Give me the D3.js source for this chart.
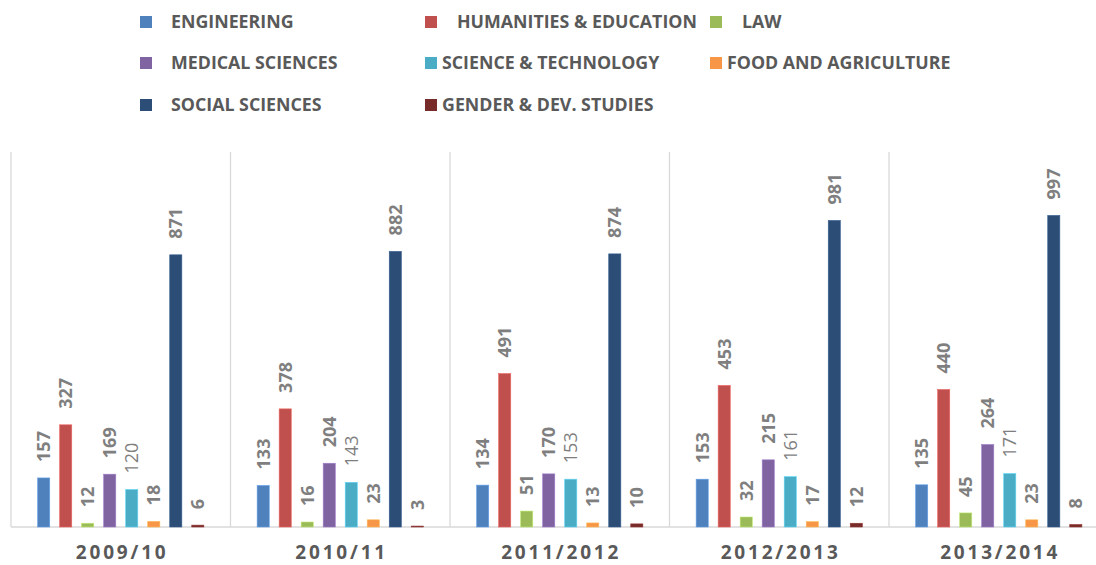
<!DOCTYPE html>
<html>
<head>
<meta charset="utf-8">
<script src="https://cdn.jsdelivr.net/npm/d3@7"></script>
<style>
  html, body { margin: 0; padding: 0; background: #ffffff; }
  svg { display: block; font-family: "Open Sans", "Liberation Sans", sans-serif; }
</style>
</head>
<body>
<svg id="chart" width="1096" height="565"></svg>
<script>
// Academic years shown along the category axis
const years = ["2009/10", "2010/11", "2011/2012", "2012/2013", "2013/2014"];

// Faculties (series), in legend order
const faculties = [
  "ENGINEERING", "HUMANITIES & EDUCATION", "LAW",
  "MEDICAL SCIENCES", "SCIENCE & TECHNOLOGY", "FOOD AND AGRICULTURE",
  "SOCIAL SCIENCES", "GENDER & DEV. STUDIES"
];

// Values per faculty, one per academic year
const engineering = [157, 133, 134, 153, 135];
const humanities  = [327, 378, 491, 453, 440];
const law         = [12, 16, 51, 32, 45];
const medical     = [169, 204, 170, 215, 264];
const scienceTech = [120, 143, 153, 161, 171];
const foodAgri    = [18, 23, 13, 17, 23];
const social      = [871, 882, 874, 981, 997];
const genderDev   = [6, 3, 10, 12, 8];

const seriesValues = [engineering, humanities, law, medical, scienceTech, foodAgri, social, genderDev];
const colors = ["#4f81bd", "#c0504d", "#9bbb59", "#8064a2", "#4bacc6", "#f79646", "#2c4d75", "#772c2a"];

const svg = d3.select("#chart");

// Plot area
const left = 11, groupW = 219.5, baseY = 527, topY = 152;

const x0 = d3.scaleBand().domain(years).range([left, left + groupW * years.length]).padding(0);
const x1 = d3.scaleBand().domain(faculties).range([0, groupW]).paddingInner(0.45).paddingOuter(1.21);
const y = d3.scaleLinear().domain([0, 1200]).range([baseY, topY]);

// Group separators (vertical gridlines at category boundaries)
const bounds = years.map(d => x0(d));
svg.append("g")
  .selectAll("line")
  .data(bounds)
  .join("line")
  .attr("x1", d => d).attr("x2", d => d)
  .attr("y1", topY).attr("y2", baseY)
  .attr("stroke", "#d9d9d9").attr("stroke-width", 1.3);

// Baseline
svg.append("line")
  .attr("x1", left).attr("x2", 1096)
  .attr("y1", baseY).attr("y2", baseY)
  .attr("stroke", "#d9d9d9").attr("stroke-width", 1.3);

// Bars and labels
const rows = [];
faculties.forEach((f, i) => {
  years.forEach((yr, j) => rows.push({ f, i, yr, v: seriesValues[i][j] }));
});

const groups = svg.append("g");
groups.selectAll("rect")
  .data(rows)
  .join("rect")
  .attr("x", d => x0(d.yr) + x1(d.f))
  .attr("width", x1.bandwidth())
  .attr("y", d => y(d.v))
  .attr("height", d => baseY - y(d.v))
  .attr("fill", d => colors[d.i])
  .attr("stroke", d => d3.color(colors[d.i]).brighter(0.6))
  .attr("stroke-width", 0.6);

groups.selectAll("text")
  .data(rows)
  .join("text")
  .attr("transform", d => `translate(${x0(d.yr) + x1(d.f) + x1.bandwidth() / 2},${y(d.v) - 16}) rotate(-90)`)
  .attr("dy", "0.35em")
  .attr("text-anchor", "start")
  .attr("font-size", 18)
  .attr("font-weight", d => d.f === "SCIENCE & TECHNOLOGY" ? 400 : 700)
  .attr("fill", "#7f7f7f")
  .text(d => d.v);

// Category axis labels
const xAxis = d3.axisBottom(x0).tickSize(0).tickPadding(0);
const axisG = svg.append("g").attr("transform", `translate(0,${baseY})`).call(xAxis);
axisG.select(".domain").remove();
axisG.selectAll("text")
  .attr("y", 32)
  .attr("dy", 0)
  .attr("dx", 1.4)
  .attr("font-family", "'Open Sans', sans-serif")
  .attr("font-size", 19)
  .attr("font-weight", 700)
  .attr("letter-spacing", 2.8)
  .attr("fill", "#595959");

// Legend
const legendPos = [
  [140, 22, 171], [425, 22, 457], [710, 22, 742],
  [140, 63, 171], [425, 63, 442], [710, 63, 727],
  [140, 105, 171], [425, 105, 442]
];
const legend = svg.append("g").selectAll("g")
  .data(faculties)
  .join("g");
legend.append("rect")
  .attr("x", (d, i) => legendPos[i][0])
  .attr("y", (d, i) => legendPos[i][1] - 6)
  .attr("width", 12).attr("height", 12)
  .attr("fill", (d, i) => colors[i]);
legend.append("text")
  .attr("x", (d, i) => legendPos[i][2])
  .attr("y", (d, i) => legendPos[i][1])
  .attr("dy", "0.36em")
  .attr("font-size", 17.8)
  .attr("font-weight", 700)
  .attr("fill", "#595959")
  .text(d => d);
</script>
</body>
</html>
